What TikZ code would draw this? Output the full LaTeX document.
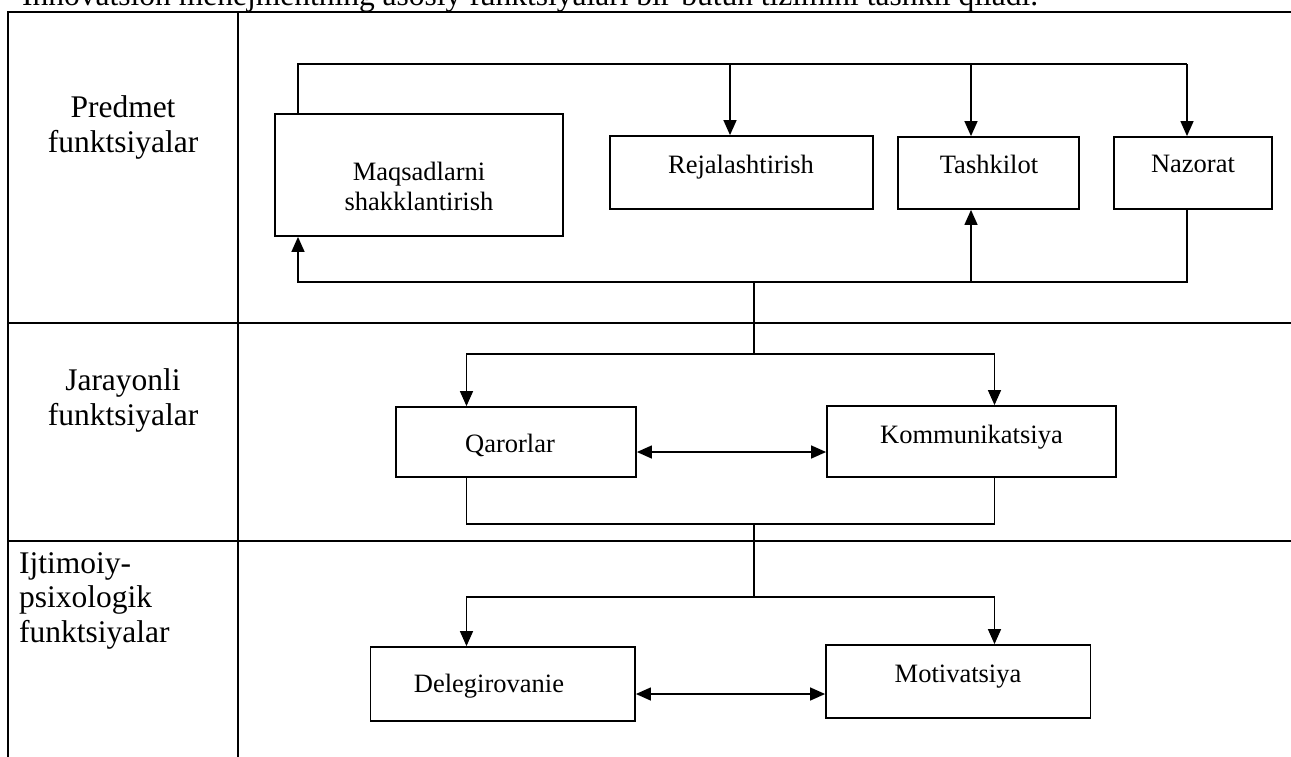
\documentclass[tikz,border=0pt]{standalone}
\usepackage{fontspec}
\setmainfont{Liberation Serif}
\usetikzlibrary{arrows.meta}
\tikzset{
  tbl/.style={line width=2.2pt},
  fbox/.style={draw, line width=1.8pt, inner sep=0pt},
  conn/.style={line width=1.4pt},
  arr/.style={conn, -{Triangle[length=15pt,width=13pt]}},
  darr/.style={conn, {Triangle[length=15pt,width=13pt]}-{Triangle[length=15pt,width=13pt]}},
  btxt/.style={inner sep=0pt, anchor=base, font=\fontsize{26.5}{30}\selectfont},
  ltxt/.style={inner sep=0pt, font=\fontsize{31.5}{35}\selectfont},
}
\begin{document}
\begin{tikzpicture}[x=1pt,y=-1pt]
\clip (0,0) rectangle (1291,756);
\fill[white] (0,0) rectangle (1291,756);
% caption (cut off at top)
\node[ltxt, anchor=base west] (cap) at (22,5) {Innovatsion menejmentning asosiy funktsiyalari bir-butun tizimini tashkil qiladi.};
% table
\draw[tbl] (8,800) -- (8,12) -- (1320,12);
\draw[tbl] (238,12) -- (238,800);
\draw[tbl] (8,323) -- (1320,323);
\draw[tbl] (8,541) -- (1320,541);
% row labels
\node[ltxt, anchor=base] (l1a) at (123,117) {Predmet};
\node[ltxt, anchor=base] (l1b) at (123,152) {funktsiyalar};
\node[ltxt, anchor=base] (l2a) at (123,390) {Jarayonli};
\node[ltxt, anchor=base] (l2b) at (123,425) {funktsiyalar};
\node[ltxt, anchor=base west] (l3a) at (19,573) {Ijtimoiy-};
\node[ltxt, anchor=base west] (l3b) at (19,607) {psixologik};
\node[ltxt, anchor=base west] (l3c) at (19,642) {funktsiyalar};
% boxes
\node[fbox, minimum width=288pt, minimum height=122pt] (maq) at (419,175) {};
\node[fbox, minimum width=263pt, minimum height=73pt] (rej) at (741.5,172.5) {};
\node[fbox, minimum width=181pt, minimum height=72pt] (tash) at (988.5,173) {};
\node[fbox, minimum width=158pt, minimum height=72pt] (naz) at (1193,173) {};
\node[fbox, minimum width=240pt, minimum height=70pt] (qar) at (516,442) {};
\node[fbox, minimum width=289pt, minimum height=71pt] (kom) at (971.5,441.5) {};
\node[fbox, minimum width=264.5pt, minimum height=74pt] (del) at (502.75,684) {};
\node[fbox, minimum width=264.5pt, minimum height=73pt] (mot) at (958.25,681.5) {};
% box texts
\node[btxt] (maqt1) at (419,180) {Maqsadlarni};
\node[btxt] (maqt2) at (419,210) {shakklantirish};
\node[btxt] (rejt) at (741,173) {Rejalashtirish};
\node[btxt] (tasht) at (989,173) {Tashkilot};
\node[btxt] (nazt) at (1193,172) {Nazorat};
\node[btxt] (qart) at (510,452) {Qarorlar};
\node[btxt] (komt) at (971.5,443) {Kommunikatsiya};
\node[btxt] (delt) at (489,692) {Delegirovanie};
\node[btxt] (mott) at (958,682) {Motivatsiya};
% top distribution line
\coordinate (tl) at (298,64);
\coordinate (tr) at (1187,64);
\coordinate (tm1) at (730,64);
\coordinate (tm2) at (971,64);
\draw[conn] (tl |- maq.north) -- (tl) -- (tr);
\draw[arr] (tm1) -- (tm1 |- rej.north);
\draw[arr] (tm2) -- (tm2 |- tash.north);
\draw[arr] (tr) -- (tr |- naz.north);
% bottom feedback line
\coordinate (bl) at (298,282);
\coordinate (br) at (1187,282);
\coordinate (bm) at (971,282);
\coordinate (bj) at (754,282);
\draw[arr] (br |- naz.south) -- (br) -- (bl) -- (bl |- maq.south);
\draw[arr] (bm) -- (bm |- tash.south);
% to row 2
\coordinate (r2l) at (466.5,354);
\coordinate (r2r) at (994.5,354);
\coordinate (r2j) at (754,354);
\draw[conn] (bj) -- (r2j);
\draw[arr] (r2j) -- (r2l) -- (r2l |- qar.north);
\draw[arr] (r2j) -- (r2r) -- (r2r |- kom.north);
\coordinate (d2) at (700,452);
\draw[darr] (qar.east |- d2) -- (kom.west |- d2);
% row 2 merge
\coordinate (m2l) at (466.5,524);
\coordinate (m2r) at (994.5,524);
\coordinate (m2j) at (754,524);
\draw[conn] (m2l |- qar.south) -- (m2l) -- (m2r) -- (m2r |- kom.south);
% to row 3
\coordinate (r3l) at (466.5,597);
\coordinate (r3r) at (994.5,597);
\coordinate (r3j) at (754,597);
\draw[conn] (m2j) -- (r3j);
\draw[arr] (r3j) -- (r3l) -- (r3l |- del.north);
\draw[arr] (r3j) -- (r3r) -- (r3r |- mot.north);
\coordinate (d3) at (700,694);
\draw[darr] (del.east |- d3) -- (mot.west |- d3);
\end{tikzpicture}
\end{document}
